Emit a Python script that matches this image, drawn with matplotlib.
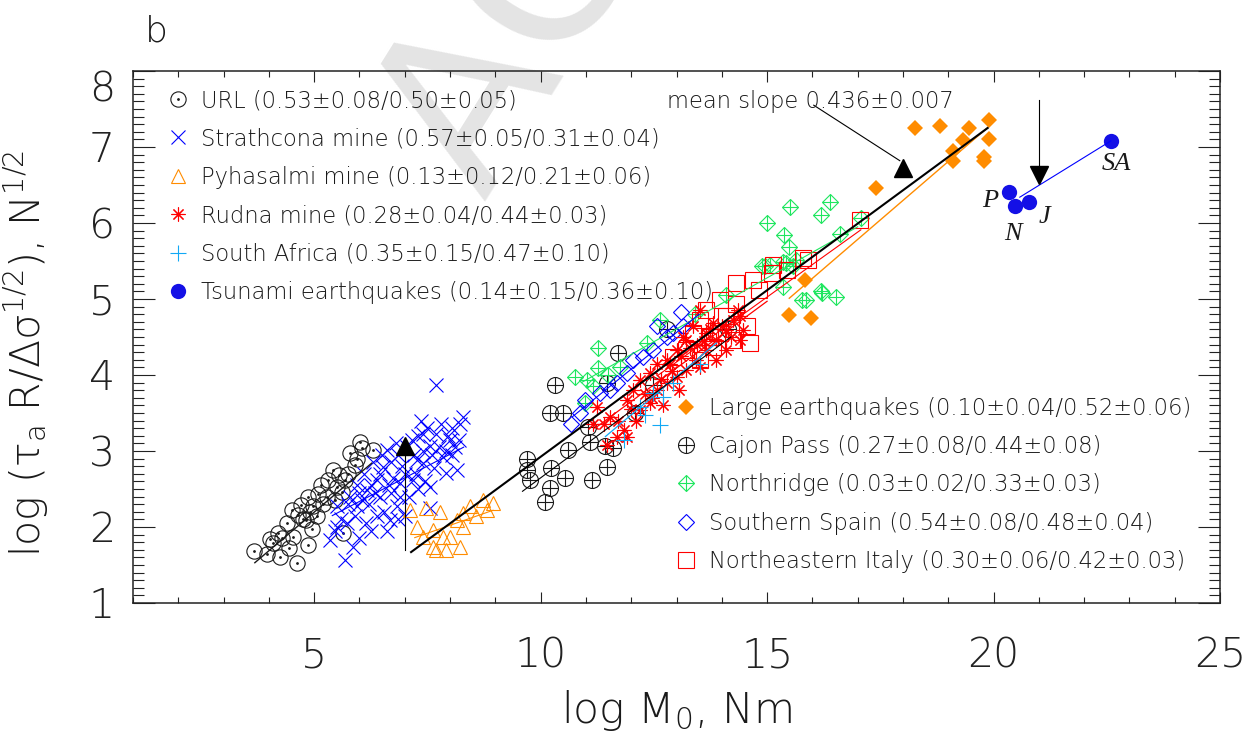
import matplotlib
matplotlib.use('Agg')
import matplotlib.pyplot as plt
from matplotlib import font_manager
from matplotlib.lines import Line2D

# --- data (log M0, log(tau R / dsigma^1/2)) ---
url_x = [3.67, 4.10, 4.25, 4.61, 4.21, 4.54, 4.87, 4.39, 4.65, 4.50, 4.72, 4.87, 4.98, 5.09,
         5.28, 5.31, 5.50, 5.42, 5.68, 5.61, 5.79, 5.90, 6.01, 6.05, 6.30, 5.94, 5.64, 4.83,
         5.06, 4.02, 4.45, 4.95, 5.20, 5.55, 4.30, 4.75, 5.15, 5.45, 5.75, 4.90, 3.95]
url_y = [1.68, 1.79, 1.61, 1.53, 1.92, 1.87, 1.76, 2.05, 2.16, 2.22, 2.29, 2.40, 2.27, 2.44,
         2.40, 2.62, 2.53, 2.75, 2.62, 2.46, 2.97, 2.82, 3.12, 3.04, 3.01, 2.90, 1.92, 2.09,
         2.14, 1.84, 1.72, 1.98, 2.30, 2.68, 1.85, 2.10, 2.55, 2.35, 2.70, 2.20, 1.65]

strath_x = [5.68, 5.35, 5.86, 5.72, 5.50, 5.94, 6.16, 6.38, 6.53, 6.60, 6.38, 6.67, 6.82, 6.89,
            7.19, 7.41, 7.41, 7.56, 7.70, 7.85, 8.00, 8.22, 8.29, 7.92, 8.15, 7.56, 7.26, 5.50,
            7.70, 6.05, 6.25, 6.45, 6.70, 6.95, 7.05, 7.30, 7.45, 7.80, 8.05, 7.65, 6.85, 6.55,
            6.15, 5.95, 6.30, 7.10, 7.35, 7.95, 8.10, 6.75, 5.80, 6.60, 7.00, 7.20, 7.55,
            5.60, 5.75, 5.90, 6.00, 6.10, 6.20, 6.35, 6.45, 6.50, 6.65, 6.70, 6.80, 6.90, 7.00,
            7.15, 7.25, 7.40, 7.50, 7.60, 7.75, 7.90, 8.05, 8.20, 6.25, 5.45, 6.00, 6.85, 7.30]
strath_y = [1.57, 1.83, 1.74, 2.05, 2.27, 2.27, 2.49, 2.62, 2.79, 3.01, 2.14, 2.09, 2.27, 2.58,
            2.62, 2.84, 3.23, 3.06, 3.23, 2.92, 3.14, 3.36, 3.45, 2.71, 2.75, 2.53, 2.88, 2.00,
            3.87, 2.35, 2.55, 2.40, 2.45, 2.80, 3.05, 3.20, 2.60, 3.35, 2.95, 2.78, 2.95, 2.20,
            2.05, 2.55, 2.85, 2.40, 3.40, 3.20, 3.05, 2.65, 2.40, 1.95, 2.15, 2.95, 2.25,
            2.10, 2.30, 2.15, 2.45, 2.70, 2.30, 2.45, 2.70, 2.95, 2.55, 2.85, 3.10, 2.40, 2.70,
            3.15, 2.70, 3.00, 3.30, 2.95, 3.05, 3.00, 3.30, 3.15, 1.95, 1.95, 1.85, 2.10, 2.50]

pyha_x = [7.11, 7.48, 7.78, 7.26, 7.63, 7.85, 7.63, 7.70, 7.92, 8.22, 8.29, 8.44, 8.73, 8.95,
          8.58, 8.29, 7.41, 8.00, 8.15, 8.81]
pyha_y = [2.22, 2.25, 2.20, 2.00, 1.96, 1.87, 1.74, 1.70, 1.70, 1.74, 2.00, 2.27, 2.36, 2.31,
          2.14, 2.18, 1.87, 1.87, 2.09, 2.22]

rudna_x = [11.46, 11.83, 12.19, 12.41, 12.56, 12.78, 13.00, 13.22, 13.44, 13.66, 13.88, 14.10,
           14.40, 13.52, 13.37, 13.00, 12.56, 12.19, 11.90, 11.53, 11.16, 13.22, 13.66, 14.10,
           14.25, 13.81, 12.78, 12.41, 12.05, 13.52, 13.88, 14.40, 14.47, 11.24, 11.68, 11.90,
           11.70, 12.00, 12.30, 12.65, 12.90, 13.10, 13.30, 13.60, 13.75, 14.00, 14.20, 12.45,
           12.85, 13.15, 13.45, 14.35, 11.40, 12.10, 12.70, 13.05]
rudna_y = [3.08, 3.28, 3.54, 3.63, 3.80, 3.89, 3.98, 4.07, 4.20, 4.33, 4.46, 4.59, 4.77, 4.86,
           4.64, 4.33, 4.15, 3.93, 3.67, 3.45, 3.36, 4.46, 4.55, 4.33, 4.72, 4.68, 4.20, 4.02,
           3.80, 4.11, 4.20, 4.46, 4.59, 3.58, 3.19, 3.19,
           3.40, 3.55, 3.75, 3.95, 4.05, 4.25, 4.35, 4.45, 4.60, 4.65, 4.50, 3.70,
           4.15, 4.50, 4.40, 4.85, 3.35, 3.40, 3.60, 3.80]

safr_x = [12.71, 12.63, 12.30, 11.83, 12.19, 12.49, 12.93, 13.52]
safr_y = [3.71, 3.34, 3.47, 3.14, 3.58, 3.76, 3.89, 4.15]

tsu_x = [20.34, 20.48, 20.78, 22.59]
tsu_y = [6.41, 6.22, 6.28, 7.08]
tsu_names = ['P', 'N', 'J', 'SA']

large_x = [18.27, 18.81, 19.46, 19.90, 19.32, 19.90, 19.10, 19.11, 19.78, 19.80, 17.40, 15.83,
           15.48, 15.97]
large_y = [7.25, 7.28, 7.25, 7.36, 7.09, 7.11, 6.95, 6.81, 6.87, 6.81, 6.46, 5.25, 4.79, 4.75]

cajon_x = [10.10, 9.69, 9.69, 9.76, 10.24, 10.21, 10.54, 10.61, 11.13, 11.09, 11.46, 11.42,
           11.60, 10.21, 10.50, 10.32, 11.05, 11.71, 11.46, 12.08, 12.49, 12.78, 14.14]
cajon_y = [2.33, 2.90, 2.75, 2.62, 2.77, 2.51, 2.64, 3.01, 2.62, 3.12, 2.79, 3.06, 3.04, 3.50,
           3.50, 3.87, 3.32, 4.29, 3.89, 3.50, 3.87, 4.61, 4.61]

north_x = [10.76, 11.02, 11.27, 11.27, 10.98, 11.49, 11.75, 12.34, 12.63, 14.88, 15.06, 15.36,
           15.76, 16.20, 15.36, 15.58, 16.40, 16.20, 15.50, 15.00, 15.38, 15.48, 16.60, 17.08,
           16.22, 16.52, 15.86, 14.96, 15.41, 15.64, 11.15, 13.40, 14.10]
north_y = [3.98, 3.93, 4.35, 4.09, 3.63, 4.00, 4.11, 4.42, 4.72, 5.43, 5.45, 5.16, 4.99, 5.10,
           5.49, 5.43, 6.28, 6.11, 6.21, 6.00, 5.84, 5.69, 5.86, 6.06, 5.08, 5.03, 4.99, 5.43,
           5.47, 5.51, 3.85, 4.80, 5.05]

spain_x = [13.11, 12.56, 10.68, 10.87, 11.31, 11.53, 11.90, 12.05, 12.27, 12.78, 12.93, 13.15,
           11.68, 10.98, 12.49]
spain_y = [4.83, 4.64, 3.36, 3.50, 3.76, 3.80, 4.02, 4.20, 4.24, 4.50, 4.55, 4.64, 3.89, 3.67,
           4.33]

italy_x = [15.80, 15.14, 14.69, 14.32, 13.96, 14.32, 14.62, 14.55, 14.10, 13.66, 13.52, 13.96,
           14.25, 13.74, 13.37, 13.22, 12.93, 13.52, 13.81, 17.05, 15.90, 15.45, 15.10, 14.82]
italy_y = [5.54, 5.45, 5.25, 5.21, 4.99, 4.94, 4.42, 4.64, 4.77, 4.86, 4.72, 4.55, 4.46, 4.50,
           4.55, 4.33, 4.24, 4.20, 4.37, 6.04, 5.51, 5.38, 5.34, 5.12]

# regression lines: x range and y at both ends
mean_fit_x, mean_fit_y = [7.14, 19.87], [1.67, 7.25]
cajon_fit_x, cajon_fit_y = [9.60, 14.20], [2.47, 4.50]
url_fit_x, url_fit_y = [3.69, 6.27], [1.53, 2.84]
strath_fit_x, strath_fit_y = [5.40, 8.30], [2.15, 3.05]
pyha_fit_x, pyha_fit_y = [7.22, 8.95], [1.86, 2.22]
rudna_fit_x, rudna_fit_y = [11.20, 15.00], [3.30, 4.97]
safr_fit_x, safr_fit_y = [11.43, 13.88], [3.19, 4.42]
north_fit_x, north_fit_y = [10.90, 17.00], [3.90, 5.95]
spain_fit_x, spain_fit_y = [10.70, 13.50], [3.45, 4.80]
italy_fit_x, italy_fit_y = [12.60, 17.07], [4.00, 5.91]
large_fit_x, large_fit_y = [15.49, 19.86], [5.01, 7.25]
tsu_fit_x, tsu_fit_y = [20.58, 22.59], [6.34, 7.08]

legend1_labels = ['URL (0.53±0.08/0.50±0.05)',
                  'Strathcona mine (0.57±0.05/0.31±0.04)',
                  'Pyhasalmi mine (0.13±0.12/0.21±0.06)',
                  'Rudna mine (0.28±0.04/0.44±0.03)',
                  'South Africa (0.35±0.15/0.47±0.10)',
                  'Tsunami earthquakes (0.14±0.15/0.36±0.10)']
legend2_labels = ['Large earthquakes (0.10±0.04/0.52±0.06)',
                  'Cajon Pass (0.27±0.08/0.44±0.08)',
                  'Northridge (0.03±0.02/0.33±0.03)',
                  'Southern Spain (0.54±0.08/0.48±0.04)',
                  'Northeastern Italy (0.30±0.06/0.42±0.03)']

mean_label = 'mean slope 0.436±0.007'
mean_arrow_x, mean_arrow_y = [16.03, 17.93], [7.55, 6.82]
mean_tri_x, mean_tri_y = 18.0, 6.72
down_arrow_x, down_arrow_y = [21.0, 21.0], [7.62, 6.75]
up_arrow_x, up_arrow_y = [7.0, 7.0], [1.70, 2.95]


def light_family():
    for fam in ['DejaVu Sans', 'Open Sans', 'Roboto', 'Lato', 'Noto Sans', 'Inter']:
        for f in font_manager.fontManager.ttflist:
            w = f.weight
            if isinstance(w, str):
                w = font_manager.weight_dict.get(w, 400)
            if f.name == fam and w <= 300 and f.style == 'normal':
                return fam
    return 'DejaVu Sans'


fam = light_family()
plt.rcParams['font.family'] = [fam, 'DejaVu Sans']
plt.rcParams['font.weight'] = 'light'
plt.rcParams['axes.labelweight'] = 'light'
plt.rcParams['mathtext.fontset'] = 'custom'
plt.rcParams['mathtext.rm'] = fam + ':light'
plt.rcParams['mathtext.it'] = fam + ':light'
plt.rcParams['mathtext.bf'] = fam + ':light'

blue = '#0000ff'
orange = '#ff8c00'
red = '#ff0000'
cyan = '#12a8f5'
green = '#1ee65f'
tsu_blue = '#1410e6'
ink = '#1a1a1a'

fig = plt.figure(figsize=(12.48, 7.36), dpi=100)
ax = fig.add_axes([133 / 1248, 1 - 603 / 736, 1087 / 1248, 532 / 736])
ax.patch.set_alpha(0)

# watermark
fig.text(0.388, 0.725, 'ACCEPTED MANUSCRIPT', rotation=58, rotation_mode='anchor',
         fontsize=160, color='#e4e4e4', ha='left', va='baseline', zorder=-5,
         family='DejaVu Sans', weight='normal')

mk = dict(ls='none', mew=0.8)
ax.plot(url_x, url_y, marker='o', ms=11, mfc='none', mec=ink, **mk)
ax.plot(url_x, url_y, marker='.', ms=2, color=ink, ls='none')
ax.plot(strath_x, strath_y, marker='x', ms=10, color=blue, **mk)
ax.plot(pyha_x, pyha_y, marker='^', ms=9.5, mfc='none', mec=orange, **mk)
ax.plot(cajon_x, cajon_y, marker='o', ms=11.5, mfc='none', mec=ink, **mk)
ax.plot(cajon_x, cajon_y, marker='+', ms=11.5, color=ink, **mk)
ax.plot(north_x, north_y, marker='D', ms=8.3, mfc='none', mec=green, **mk)
ax.plot(north_x, north_y, marker='+', ms=11.7, color=green, **mk)
ax.plot(spain_x, spain_y, marker='D', ms=8, mfc='none', mec=blue, **mk)
ax.plot(italy_x, italy_y, marker='s', ms=12, mfc='none', mec=red, **mk)
ax.plot(rudna_x, rudna_y, marker=(8, 2, 0), ms=10, color=red, **mk)
ax.plot(safr_x, safr_y, marker='+', ms=11, color=cyan, **mk)
ax.plot(large_x, large_y, marker='D', ms=8.5, color=orange, mew=0, ls='none')
ax.plot(tsu_x, tsu_y, marker='o', ms=11, color=tsu_blue, mew=0, ls='none')

# fit lines
ax.plot(url_fit_x, url_fit_y, color=ink, lw=1.0)
ax.plot(strath_fit_x, strath_fit_y, color=blue, lw=0.8)
ax.plot(pyha_fit_x, pyha_fit_y, color=orange, lw=0.8)
ax.plot(north_fit_x, north_fit_y, color=green, lw=0.8)
ax.plot(spain_fit_x, spain_fit_y, color=blue, lw=0.8)
ax.plot(italy_fit_x, italy_fit_y, color=red, lw=0.8)
ax.plot(rudna_fit_x, rudna_fit_y, color=red, lw=0.9)
ax.plot(safr_fit_x, safr_fit_y, color=cyan, lw=0.9)
ax.plot(large_fit_x, large_fit_y, color=orange, lw=1.0)
ax.plot(tsu_fit_x, tsu_fit_y, color=blue, lw=0.8)
ax.plot(cajon_fit_x, cajon_fit_y, color='black', lw=0.8)
ax.plot(mean_fit_x, mean_fit_y, color='black', lw=1.5)

# arrows / markers
ax.plot(mean_arrow_x, mean_arrow_y, color='black', lw=0.8)
ax.plot([mean_tri_x], [mean_tri_y], marker='^', ms=13, color='black', ls='none')
ax.plot(down_arrow_x, down_arrow_y, color='black', lw=0.8)
ax.plot([down_arrow_x[1]], [down_arrow_y[1] - 0.12], marker='v', ms=13, color='black', ls='none')
ax.plot(up_arrow_x, up_arrow_y, color='black', lw=0.8)
ax.plot([up_arrow_x[1]], [up_arrow_y[1] + 0.12], marker='^', ms=13, color='black', ls='none')

ax.text(15.95, 7.6, mean_label, fontsize=16.3, color=ink, ha='center', va='center')

name_off = {'P': (-0.42, -0.12), 'N': (-0.05, -0.36), 'J': (0.35, -0.2), 'SA': (0.12, -0.3)}
for nm, xv, yv in zip(tsu_names, tsu_x, tsu_y):
    dx, dy = name_off[nm]
    ax.text(xv + dx, yv + dy, nm, fontsize=19, style='italic', family='Liberation Serif',
            weight='normal', color=ink, ha='center', va='center')

# legends
def sym(**kw):
    return Line2D([], [], ls='none', **kw)

h1 = [(sym(marker='o', ms=11, mfc='none', mec=ink, mew=0.8), sym(marker='.', ms=2, color=ink)),
      sym(marker='x', ms=10, color=blue, mew=0.8),
      sym(marker='^', ms=9.5, mfc='none', mec=orange, mew=0.8),
      sym(marker=(8, 2, 0), ms=10, color=red, mew=0.8),
      sym(marker='+', ms=11, color=cyan, mew=0.8),
      sym(marker='o', ms=11, color=tsu_blue, mew=0)]
h2 = [sym(marker='D', ms=8.5, color=orange, mew=0),
      (sym(marker='o', ms=11.5, mfc='none', mec=ink, mew=0.8), sym(marker='+', ms=11.5, color=ink, mew=0.8)),
      (sym(marker='D', ms=8.3, mfc='none', mec=green, mew=0.8), sym(marker='+', ms=11.7, color=green, mew=0.8)),
      sym(marker='D', ms=8, mfc='none', mec=blue, mew=0.8),
      sym(marker='s', ms=12, mfc='none', mec=red, mew=0.8)]

leg_kw = dict(frameon=False, fontsize=16.3, handlelength=1.0, handletextpad=0.5,
              labelspacing=0.68, borderpad=0, borderaxespad=0, loc='upper left',
              labelcolor=ink)
leg1 = ax.legend(h1, legend1_labels, bbox_to_anchor=(166.6 / 1248, 1 - 89 / 736),
                 bbox_transform=fig.transFigure, **leg_kw)
ax.add_artist(leg1)
ax.legend(h2, legend2_labels, bbox_to_anchor=(674.6 / 1248, 1 - 396.5 / 736),
          bbox_transform=fig.transFigure, **leg_kw)

# axes
ax.set_xlim(1, 25)
ax.set_ylim(1, 8)
ax.set_xticks([5, 10, 15, 20, 25])
ax.set_xticks(range(1, 26), minor=True)
ax.set_yticks(range(1, 9))
ax.set_yticks([1 + i * 0.1 for i in range(71)], minor=True)
ax.tick_params(axis='both', which='both', direction='in', top=True, right=True,
               colors='#222222', labelsize=29.5, width=0.8)
ax.tick_params(axis='x', which='major', length=8, pad=24)
ax.tick_params(axis='x', which='minor', length=4)
ax.tick_params(axis='y', which='major', length=15.6, pad=13)
ax.tick_params(axis='y', which='minor', length=7.8)
for s in ax.spines.values():
    s.set_linewidth(1.1)
    s.set_color('#222222')
ax.yaxis.get_major_ticks()[-1].label1.set_verticalalignment('top')

ax.set_xlabel('log M$_0$, Nm', fontsize=30.5, color=ink, fontweight='light')
ax.xaxis.set_label_coords(0.5, -0.16)
ax.set_ylabel('log (τ$_{\\rm a}$ R/Δσ$^{1/2}$), N$^{1/2}$', fontsize=29.5,
              color=ink, fontweight='light')
ax.yaxis.set_label_coords(-0.075, 0.47)

fig.text(145 / 1248, 1 - 42 / 736, 'b', fontsize=26, color=ink, ha='left', va='baseline')

fig.savefig('out.png', dpi=100)
